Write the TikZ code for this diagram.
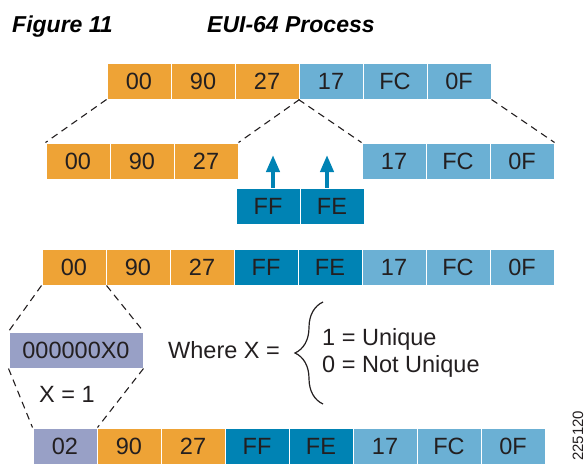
\documentclass[tikz,border=0pt]{standalone}
\usepackage{fontspec}
\setmainfont{Liberation Sans}
\usepackage{xcolor}
\usepackage{tikz}
\usetikzlibrary{arrows.meta,decorations.pathreplacing}

\definecolor{euiorange}{RGB}{238,163,54}
\definecolor{euilight}{RGB}{107,176,212}
\definecolor{euidark}{RGB}{0,131,180}
\definecolor{euipurple}{RGB}{152,160,198}
\definecolor{euitext}{RGB}{35,31,32}

\begin{document}
\begin{tikzpicture}[x=1pt,y=-1pt,
  byte/.style={draw=white,line width=1pt,minimum width=64pt,minimum height=36pt,
    inner sep=0pt,text=euitext,font=\fontsize{23.5}{28}\selectfont},
  ouibyte/.style={byte,fill=euiorange},
  nicbyte/.style={byte,fill=euilight},
  fffebyte/.style={byte,fill=euidark},
  bitbyte/.style={byte,fill=euipurple},
  splitline/.style={euitext,line width=1.1pt,dash pattern=on 7pt off 5pt},
  ffarrow/.style={euidark,line width=4pt,-{Triangle[width=13pt,length=17pt]}},
  lbl/.style={text=euitext,inner sep=0pt,font=\fontsize{23.5}{28}\selectfont},
  titletext/.style={inner sep=0pt,font=\fontsize{23}{28}\selectfont\bfseries\itshape}]
\useasboundingbox (0,0) rectangle (585,463);
% title
\node[titletext,anchor=base west] (fig) at (12,32) {Figure 11};
\node[titletext,anchor=base west] (head) at (207,32) {EUI-64 Process};
% MAC address
\node[ouibyte] (top00) at (139,81) {00};
\node[ouibyte] (top90) at (203,81) {90};
\node[ouibyte] (top27) at (267,81) {27};
\node[nicbyte] (top17) at (331,81) {17};
\node[nicbyte] (topFC) at (395,81) {FC};
\node[nicbyte] (top0F) at (459,81) {0F};
% split in two halves
\node[ouibyte] (mid00) at (78,161) {00};
\node[ouibyte] (mid90) at (142,161) {90};
\node[ouibyte] (mid27) at (206,161) {27};
\node[nicbyte] (mid17) at (394,161) {17};
\node[nicbyte] (midFC) at (458,161) {FC};
\node[nicbyte] (mid0F) at (522,161) {0F};
\draw[splitline] (top00.south west)--(mid00.north west);
\draw[splitline] (top27.south east)--(mid27.north east);
\draw[splitline] (top17.south west)--(mid17.north west);
\draw[splitline] (top0F.south east)--(mid0F.north east);
% FF FE inserted
\node[fffebyte] (ff) at (268,206) {FF};
\node[fffebyte] (fe) at (332,206) {FE};
\coordinate (ffin) at (273,155);
\coordinate (fein) at (327,155);
\draw[ffarrow] (ff.north -| ffin)--(ffin);
\draw[ffarrow] (fe.north -| fein)--(fein);
% EUI-64
\node[ouibyte] (eui00) at (74,267) {00};
\node[ouibyte] (eui90) at (138,267) {90};
\node[ouibyte] (eui27) at (202,267) {27};
\node[fffebyte] (euiFF) at (266,267) {FF};
\node[fffebyte] (euiFE) at (330,267) {FE};
\node[nicbyte] (eui17) at (394,267) {17};
\node[nicbyte] (euiFC) at (458,267) {FC};
\node[nicbyte] (eui0F) at (522,267) {0F};
% first byte in bits
\node[bitbyte,minimum width=134pt] (bits) at (76,350) {000000X0};
\draw[splitline] (eui00.south west)--(bits.north west);
\draw[splitline] (eui00.south east)--(bits.north east);
\node[lbl] (xone) at (67,394) {X = 1};
\node[lbl,anchor=base west] (where) at (168,358) {Where X =};
\draw[decorate,decoration={brace,amplitude=28pt},euitext,line width=1.2pt] (323,404)--(323,302);
\node[lbl,anchor=base west] (uniq) at (322,345) {1 = Unique};
\node[lbl,anchor=base west] (notuniq) at (322,372) {0 = Not Unique};
% modified EUI-64
\node[bitbyte] (new02) at (65,446) {02};
\node[ouibyte] (new90) at (129,446) {90};
\node[ouibyte] (new27) at (193,446) {27};
\node[fffebyte] (newFF) at (257,446) {FF};
\node[fffebyte] (newFE) at (321,446) {FE};
\node[nicbyte] (new17) at (385,446) {17};
\node[nicbyte] (newFC) at (449,446) {FC};
\node[nicbyte] (new0F) at (513,446) {0F};
\draw[splitline] (bits.south west)--(new02.north west);
\draw[splitline] (bits.south east)--(new02.north east);
\node[lbl,rotate=90,anchor=base west,font=\fontsize{15}{18}\selectfont] (figno) at (583,461) {225120};
\end{tikzpicture}
\end{document}
